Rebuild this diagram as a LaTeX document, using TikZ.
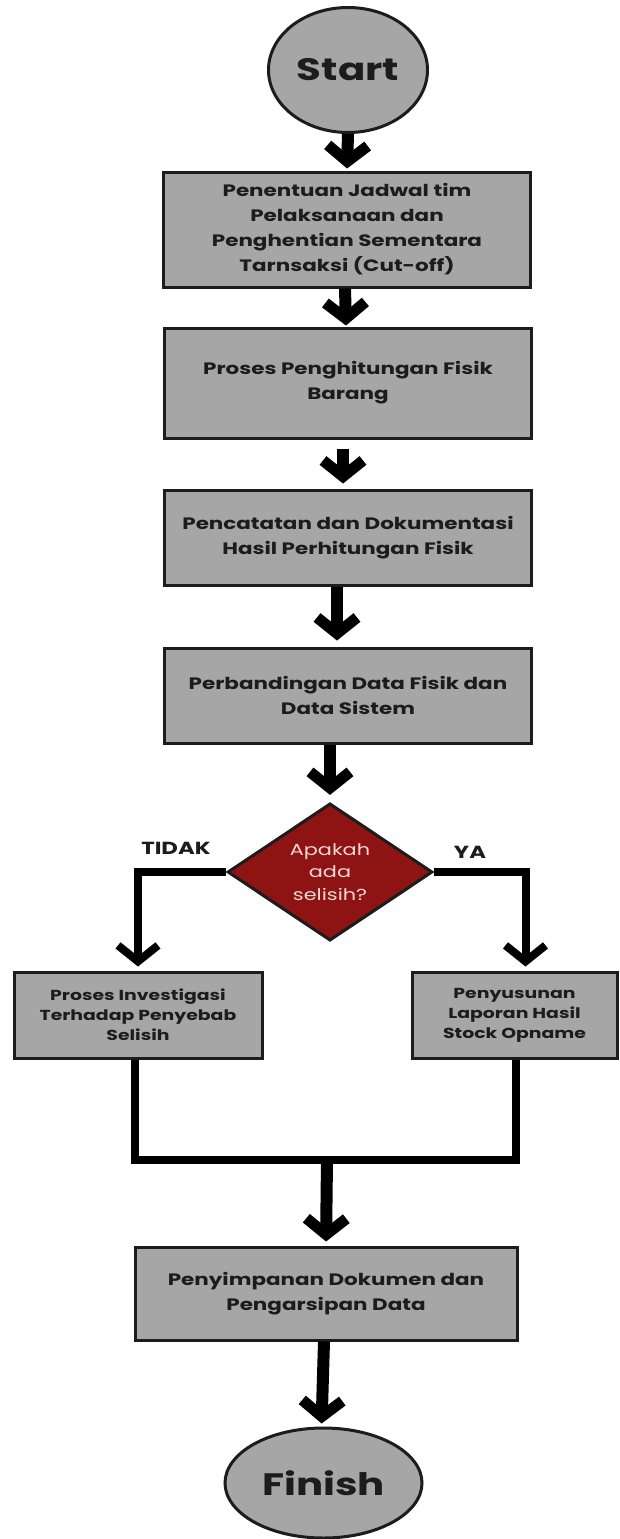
\documentclass[tikz,border=0pt]{standalone}
\usepackage{fontspec}
\setmainfont{Poppins}[FakeStretch=1.3]
\usetikzlibrary{shapes.geometric,arrows.meta}
\definecolor{boxgray}{HTML}{A6A6A6}
\definecolor{edge}{HTML}{1C1C1C}
\definecolor{dred}{HTML}{8E1414}
\definecolor{lpink}{HTML}{F3D6D6}
\begin{document}
\begin{tikzpicture}[x=1pt,y=-1pt,
  proc/.style={rectangle, draw=edge, line width=3pt, fill=boxgray, inner sep=0pt,
    align=center, text=edge, font=\bfseries\fontsize{16.5}{25}\selectfont},
  sproc/.style={proc, font=\bfseries\fontsize{14.5}{20}\selectfont},
  term/.style={ellipse, draw=edge, line width=3pt, fill=boxgray, inner sep=0pt,
    text=edge, font=\bfseries\fontsize{31}{32}\selectfont},
  decide/.style={diamond, draw=edge, line width=3pt, fill=dred, inner sep=0pt,
    align=center, text=lpink, font=\fontsize{16}{22.5}\selectfont},
  lbl/.style={text=edge, font=\bfseries\fontsize{17.5}{18}\selectfont},
  flow/.style={draw=black, line width=12pt,
    -{Straight Barb[length=16pt,width=40pt,line width=11pt]}},
  thin/.style={draw=black, line width=8pt,
    -{Straight Barb[length=16pt,width=40pt,line width=8pt]}},
  joinline/.style={draw=black, line width=8pt, line join=miter}
]
\useasboundingbox (0,0) rectangle (619,1539);
\fill[white] (0,0) rectangle (619,1539);

\node[term, minimum width=159pt, minimum height=125pt] (start) at (348,70) {Start};
\node[proc, minimum width=367pt, minimum height=115pt] (b1) at (347,229.5)
  {Penentuan Jadwal tim\\Pelaksanaan dan\\Penghentian Sementara\\Tarnsaksi (Cut-off)};
\node[proc, minimum width=367pt, minimum height=110pt] (b2) at (348,383)
  {Proses Penghitungan Fisik\\Barang};
\node[proc, minimum width=367pt, minimum height=95pt] (b3) at (348,537.5)
  {Pencatatan dan Dokumentasi\\Hasil Perhitungan Fisik};
\node[proc, minimum width=367pt, minimum height=95pt] (b4) at (348,695.5)
  {Perbandingan Data Fisik dan\\Data Sistem};
\node[decide, minimum width=205pt, minimum height=130pt] (d) at (330,872)
  {Apakah\\ada\\selisih?};
\node[lbl] (tidak) at (176,848) {TIDAK};
\node[lbl] (ya) at (470,852) {YA};
\node[sproc, minimum width=248pt, minimum height=86pt] (L) at (138,1015)
  {Proses Investigasi\\Terhadap Penyebab\\Selisih};
\node[sproc, minimum width=205pt, minimum height=86pt] (R) at (514.5,1015)
  {Penyusunan\\Laporan Hasil\\Stock Opname};
\node[proc, minimum width=382pt, minimum height=93pt] (F) at (326,1293.5)
  {Penyimpanan Dokumen dan\\Pengarsipan Data};
\node[term, minimum width=197pt, minimum height=110pt] (finish) at (323.5,1483) {Finish};

\draw[flow, shorten >=2pt] (start.south) -- (b1.north);
\draw[flow, shorten >=1pt] ([xshift=-2pt]b1.south) -- ([xshift=-2pt]b2.north);
\draw[flow, shorten <=9pt, shorten >=5pt] ([xshift=-5pt]b2.south) -- ([xshift=-5pt]b3.north);
\draw[flow, shorten >=6pt] ([xshift=-11pt]b3.south) -- ([xshift=-11pt]b4.north);
\draw[flow, shorten >=7pt] ([xshift=-18pt]b4.south) -- (d.north);

\draw[thin, shorten >=4pt] (d.west) -| (L.north);
\draw[thin, shorten >=4pt] (d.east) -| ([xshift=11pt]R.north);

\coordinate (j) at (327,1160);
\draw[joinline] ([xshift=-3pt]L.south) |- (j) -| ([xshift=1.5pt]R.south);
\draw[flow, shorten >=4pt] (j) -- (F.north);
\draw[flow, shorten >=3pt] ([xshift=-2pt]F.south) -- ([xshift=-2pt]finish.north);
\end{tikzpicture}
\end{document}
